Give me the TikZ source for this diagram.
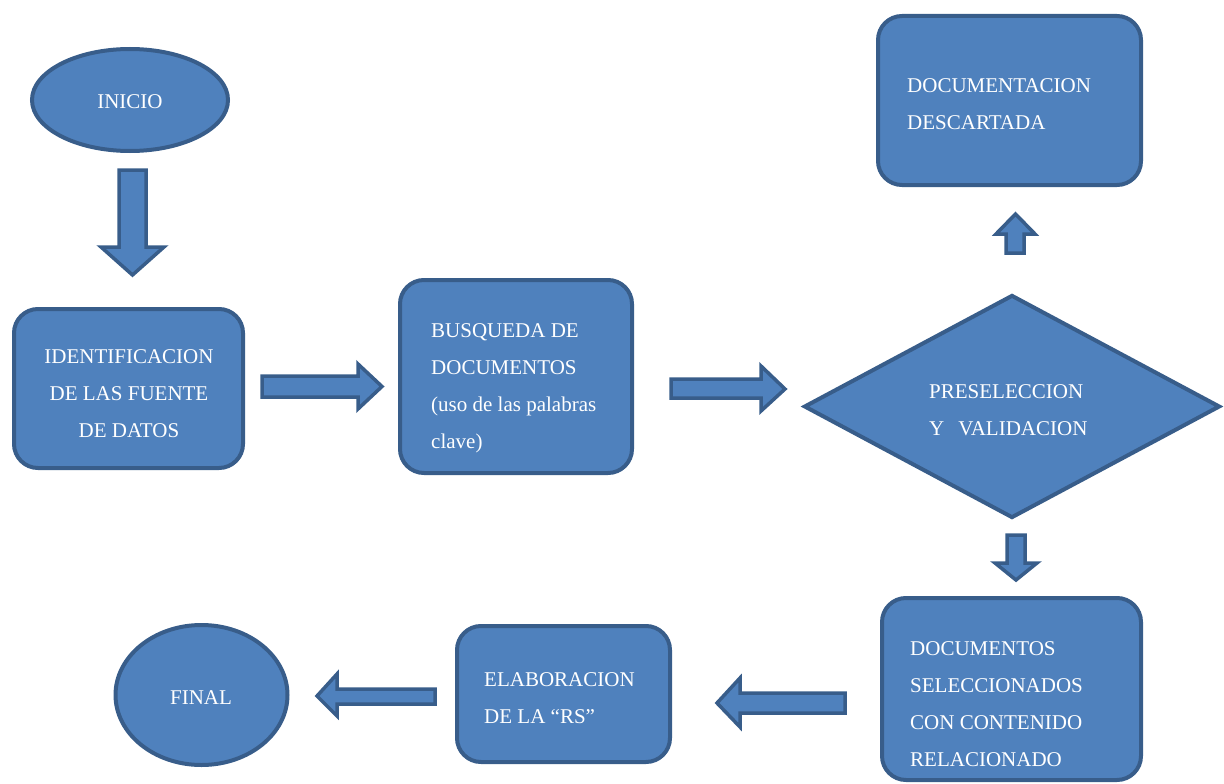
\documentclass[tikz,border=0pt]{standalone}
\usepackage{fontspec}
\setmainfont{Liberation Serif}
\newfontfamily\tnrfont{Liberation Serif}
\usetikzlibrary{shapes.geometric}
\definecolor{bfill}{HTML}{4F81BD}
\definecolor{bline}{HTML}{385D8A}
\tikzset{
  shp/.style={fill=bfill, draw=bline, line width=4pt},
  rbox/.style={shp, rectangle, rounded corners=24pt, inner sep=0pt},
  ell/.style={shp, ellipse, inner sep=0pt},
  dia/.style={shp, diamond, inner sep=0pt},
  barrow/.style={fill=bfill, draw=bline, line width=3.5pt, line join=miter},
  txt/.style={text=white, inner sep=0pt, font=\tnrfont\fontsize{21}{37}\selectfont},
}
\begin{document}
\begin{tikzpicture}[x=1pt,y=-1pt]
\useasboundingbox (0,0) rectangle (1224,784);
% shapes
\node[ell, minimum width=196pt, minimum height=102pt] (inicio) at (130,100) {};
\node[rbox, minimum width=229pt, minimum height=159pt] (ident) at (128.5,388.5) {};
\node[rbox, minimum width=232pt, minimum height=193pt] (busq) at (516,376.5) {};
\node[dia, minimum width=416pt, minimum height=223pt] (presel) at (1012,406.5) {};
\node[rbox, minimum width=263pt, minimum height=169pt] (desc) at (1009.5,100.5) {};
\node[rbox, minimum width=259pt, minimum height=182pt] (selec) at (1011.5,689) {};
\node[rbox, minimum width=213pt, minimum height=136pt] (elab) at (563.5,694) {};
\node[ell, minimum width=172pt, minimum height=140pt] (final) at (201.5,695) {};
% block arrows
\draw[barrow] (119,170) -- (146,170) -- (146,247) -- (164,247) -- (132.5,275) -- (101,247) -- (119,247) -- cycle;
\draw[barrow] (262,376) -- (358,376) -- (358,364) -- (382,386.5) -- (358,409) -- (358,397) -- (262,397) -- cycle;
\draw[barrow] (671,379) -- (761,379) -- (761,366) -- (785,389) -- (761,411) -- (761,398) -- (671,398) -- cycle;
\draw[barrow] (1006,253) -- (1006,234) -- (996,234) -- (1015.5,214) -- (1035,234) -- (1024,234) -- (1024,253) -- cycle;
\draw[barrow] (1007,535) -- (1025,535) -- (1025,563) -- (1037,563) -- (1016,580) -- (995,563) -- (1007,563) -- cycle;
\draw[barrow] (845,693) -- (740,693) -- (740,678) -- (717,703) -- (740,727) -- (740,713) -- (845,713) -- cycle;
\draw[barrow] (435,689) -- (337,689) -- (337,674) -- (317,696) -- (337,716) -- (337,704) -- (435,704) -- cycle;
% texts
\node[txt] (tinicio) at (130,102) {INICIO};
\node[txt, align=center] (tident) at (129,394) {IDENTIFICACION\\DE LAS FUENTE\\DE DATOS};
\node[txt, align=left, anchor=north west] (tbusq) at (431,323) {BUSQUEDA DE\\DOCUMENTOS\\(uso de las palabras\\clave)};
\node[txt, align=left, anchor=north west] (tpresel) at (929,384) {PRESELECCION\\Y\hspace{14pt}VALIDACION};
\node[txt, align=left, anchor=north west] (tdesc) at (907,78) {DOCUMENTACION\\DESCARTADA};
\node[txt, align=left, anchor=north west] (tselec) at (910,641) {DOCUMENTOS\\SELECCIONADOS\\CON CONTENIDO\\RELACIONADO};
\node[txt, align=left, anchor=north west] (telab) at (484,672) {ELABORACION\\DE LA “RS”};
\node[txt] (tfinal) at (201,698) {FINAL};
\end{tikzpicture}
\end{document}
